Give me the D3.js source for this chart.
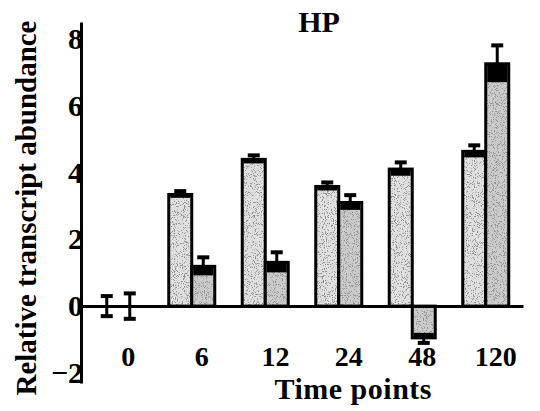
<!DOCTYPE html>
<html>
<head>
<meta charset="utf-8">
<script src="https://cdn.jsdelivr.net/npm/d3@7"></script>
<style>
  html, body { margin: 0; padding: 0; background: #fff; }
  svg { display: block; }
  text { font-family: "Liberation Serif", "Times New Roman", serif; font-weight: bold; fill: #000; }
</style>
</head>
<body>
<svg id="chart" width="540" height="411"></svg>
<script>
// Time points (h) and the two measured series with their errors
const timePoints = ["0", "6", "12", "24", "48", "120"];
const seriesNames = ["A", "B"];
const seriesA = [0, 3.34, 4.39, 3.58, 4.1, 4.63];
const errorA = [0.3, 0.1, 0.12, 0.12, 0.2, 0.18];
const seriesB = [0, 1.19, 1.31, 3.1, -0.95, 7.25];
const errorB = [0.38, 0.27, 0.3, 0.22, 0.15, 0.55];
const yTicks = [-2, 0, 2, 4, 6, 8];

const fills = { A: "#e0e0e0", B: "#cbcbcb" };

const svg = d3.select("#chart");

// stipple texture laid over the bar fills
const defs = svg.append("defs");
const f = defs.append("filter").attr("id", "stipple")
  .attr("x", 0).attr("y", 0).attr("width", 1).attr("height", 1);
f.append("feTurbulence").attr("type", "fractalNoise").attr("baseFrequency", 1.1)
  .attr("numOctaves", 2).attr("seed", 7).attr("result", "noise");
f.append("feColorMatrix").attr("in", "noise").attr("type", "matrix")
  .attr("values", "0 0 0 0 0.3  0 0 0 0 0.3  0 0 0 0 0.3  0 0 0 9 -5.0")
  .attr("result", "dots");
f.append("feComposite").attr("in", "dots").attr("in2", "SourceAlpha")
  .attr("operator", "in").attr("result", "clipped");
const merge = f.append("feMerge");
merge.append("feMergeNode").attr("in", "SourceGraphic");
merge.append("feMergeNode").attr("in", "clipped");

const x = d3.scaleBand().domain(timePoints).range([81, 523])
  .paddingInner(0.374).paddingOuter(0.194);
const xs = d3.scaleBand().domain(seriesNames).range([0, x.bandwidth()]);
const y = d3.scaleLinear().domain([-2.3, 8.5]).range([383, 22]);

const rows = timePoints.flatMap((t, i) => [
  { t, s: "A", v: seriesA[i], e: errorA[i] },
  { t, s: "B", v: seriesB[i], e: errorB[i] }
]);

const bars = svg.append("g");
rows.forEach(d => {
  const bx = x(d.t) + xs(d.s);
  const bw = xs.bandwidth();
  const top = y(Math.max(0, d.v)), bot = y(Math.min(0, d.v));
  if (d.v !== 0) {
    bars.append("rect").attr("x", bx).attr("y", top)
      .attr("width", bw).attr("height", bot - top)
      .attr("fill", fills[d.s]).attr("filter", "url(#stipple)");
    // inner half of the error bar, drawn as a dark band inside the bar
    const inner = d.v > 0 ? [y(d.v), y(d.v - d.e)] : [y(d.v + d.e), y(d.v)];
    bars.append("rect").attr("x", bx + 1.5).attr("y", inner[0])
      .attr("width", bw - 3).attr("height", inner[1] - inner[0]).attr("fill", "#000");
    bars.append("rect").attr("x", bx).attr("y", top)
      .attr("width", bw).attr("height", bot - top)
      .attr("fill", "none").attr("stroke", "#000").attr("stroke-width", 3);
  }
  // whisker with caps
  const cx = bx + bw / 2, cap = 6;
  const lo = d.v === 0 ? d.v - d.e : (d.v > 0 ? d.v : d.v - d.e);
  const hi = d.v === 0 ? d.v + d.e : (d.v > 0 ? d.v + d.e : d.v);
  bars.append("line").attr("x1", cx).attr("x2", cx)
    .attr("y1", y(lo)).attr("y2", y(hi))
    .attr("stroke", "#000").attr("stroke-width", 3);
  const capsAt = d.v === 0 ? [lo, hi] : [d.v > 0 ? hi : lo];
  capsAt.forEach(c => {
    bars.append("line").attr("x1", cx - cap).attr("x2", cx + cap)
      .attr("y1", y(c)).attr("y2", y(c))
      .attr("stroke", "#000").attr("stroke-width", 4);
  });
});

// y axis
const yAxis = svg.append("g").attr("transform", "translate(81,0)")
  .call(d3.axisLeft(y).tickValues(yTicks).tickSize(0).tickPadding(-2)
    .tickFormat(d3.format("d")));
yAxis.select(".domain").attr("stroke", "#000").attr("stroke-width", 3);
yAxis.selectAll("text").attr("font-size", 30);

// x axis along zero
const xAxis = svg.append("g").attr("transform", `translate(0,${y(0)})`)
  .call(d3.axisBottom(x).tickSize(0).tickPadding(40));
xAxis.select(".domain").attr("stroke", "#000").attr("stroke-width", 3);
xAxis.selectAll("text").attr("font-size", 28).attr("x", x.bandwidth() * 0.22);

// titles
svg.append("text").attr("x", 319).attr("y", 32).attr("text-anchor", "middle")
  .attr("font-size", 30).text("HP");
svg.append("text").attr("x", 353).attr("y", 399).attr("text-anchor", "middle")
  .attr("font-size", 30).attr("textLength", 157).attr("lengthAdjust", "spacing")
  .text("Time points");
svg.append("text").attr("transform", "translate(36,208) rotate(-90)")
  .attr("text-anchor", "middle").attr("font-size", 29)
  .attr("textLength", 375).attr("lengthAdjust", "spacing")
  .text("Relative transcript abundance");
</script>
</body>
</html>
